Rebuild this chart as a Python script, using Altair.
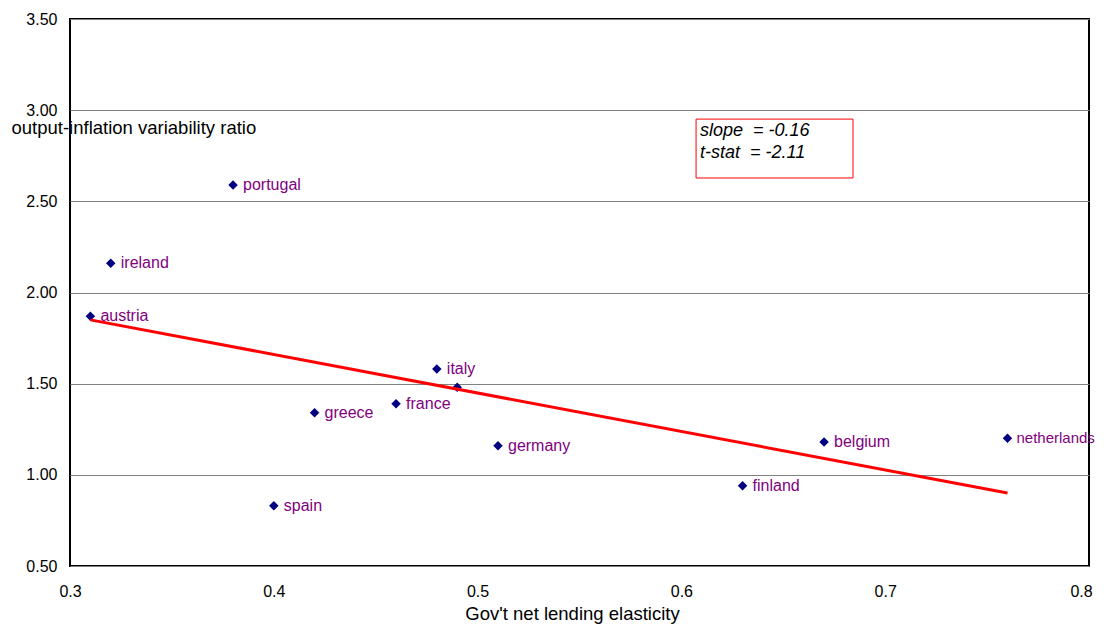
import altair as alt
import pandas as pd

countries = ["portugal", "ireland", "austria", "italy", "", "france", "greece",
             "germany", "spain", "finland", "belgium", "netherlands"]
elasticity = [0.38, 0.32, 0.31, 0.48, 0.49, 0.46, 0.42, 0.51, 0.40, 0.63, 0.67, 0.76]
ratio = [2.59, 2.16, 1.87, 1.58, 1.48, 1.39, 1.34, 1.16, 0.83, 0.94, 1.18, 1.20]

fit_x = [0.31, 0.76]
fit_y = [1.85, 0.90]

box_x = [0.6072]
box_x2 = [0.6842]
box_y = [2.951]
box_y2 = [2.628]
ann_lines = ["slope\u00a0\u00a0= -0.16", "t-stat\u00a0\u00a0= -2.11"]
ann_y = [2.886, 2.765]
ann_x = [0.6091, 0.6091]

FONT = "Liberation Sans"

pts = pd.DataFrame({"country": countries, "x": elasticity, "y": ratio})
fit = pd.DataFrame({"x": fit_x, "y": fit_y})
box = pd.DataFrame({"x": box_x, "x2": box_x2, "y": box_y, "y2": box_y2})
ann = pd.DataFrame({"t": ann_lines, "x": ann_x, "y": ann_y})

xs = alt.Scale(domain=[0.3, 0.8], nice=False, zero=False)
ys = alt.Scale(domain=[0.5, 3.5], nice=False, zero=False)

xaxis = alt.Axis(values=[0.3, 0.4, 0.5, 0.6, 0.7, 0.8], format=".1f", grid=False,
                 ticks=False, domain=False, labelPadding=17, labelFontSize=16,
                 labelFlush=False, labelOverlap=False,
                 labelOffset={"condition": {"test": "datum.value >= 0.79", "value": -8},
                              "value": 0},
                 labelColor="#000000", labelFont=FONT,
                 title="Gov't net lending elasticity", titleFont=FONT,
                 titleFontSize=18.5, titleFontWeight="normal", titleColor="#000000",
                 titleX=502, titleY=53, titleBaseline="alphabetic", titleAnchor="start",
                 titleAlign="center")
yaxis = alt.Axis(values=[0.5, 1.0, 1.5, 2.0, 2.5, 3.0, 3.5], format=".2f", grid=True,
                 gridColor="#808080", gridWidth=1, ticks=False, domain=False,
                 labelPadding=13, labelFontSize=16, labelColor="#000000", labelFont=FONT,
                 labelOverlap=False,
                 title="output-inflation variability ratio", titleFont=FONT,
                 titleFontSize=18.5, titleFontWeight="normal", titleColor="#000000",
                 titleAngle=0, titleX=-59, titleY=108, titleAlign="left",
                 titleBaseline="middle", titleAnchor="start")

base_pts = alt.Chart(pts).mark_point(shape="diamond", filled=True, size=90,
                                     color="#000080", opacity=1).encode(
    x=alt.X("x:Q", scale=xs, axis=xaxis),
    y=alt.Y("y:Q", scale=ys, axis=yaxis),
)

labels = alt.Chart(pts).transform_filter("datum.x < 0.75").mark_text(
    align="left", baseline="middle", dx=10, fontSize=16, font=FONT,
    color="#800080").encode(
    x=alt.X("x:Q", scale=xs), y=alt.Y("y:Q", scale=ys), text="country:N")

labels_edge = alt.Chart(pts).transform_filter("datum.x >= 0.75").mark_text(
    align="left", baseline="middle", dx=9, fontSize=15, font=FONT,
    color="#800080").encode(
    x=alt.X("x:Q", scale=xs), y=alt.Y("y:Q", scale=ys), text="country:N")

line = alt.Chart(fit).mark_line(color="#ff0000", strokeWidth=3).encode(
    x=alt.X("x:Q", scale=xs), y=alt.Y("y:Q", scale=ys))

rect = alt.Chart(box).mark_rect(fill="#ffffff", stroke="#ff0000", strokeWidth=1).encode(
    x=alt.X("x:Q", scale=xs), x2="x2:Q", y=alt.Y("y:Q", scale=ys), y2="y2:Q")

anntext = alt.Chart(ann).mark_text(align="left", baseline="middle", fontSize=18,
                                   font=FONT, fontStyle="italic", color="#000000").encode(
    x=alt.X("x:Q", scale=xs), y=alt.Y("y:Q", scale=ys), text="t:N")

chart = alt.layer(base_pts, line, labels, labels_edge, rect, anntext).properties(
    width=1019, height=547,
    autosize=alt.AutoSizeParams(type="none"),
    padding={"left": 62, "top": 11, "right": 7, "bottom": 58},
    background="#ffffff",
).configure_view(stroke="#000000", strokeWidth=2)

chart.save("out.html", embed_options={"renderer": "svg", "actions": False})
